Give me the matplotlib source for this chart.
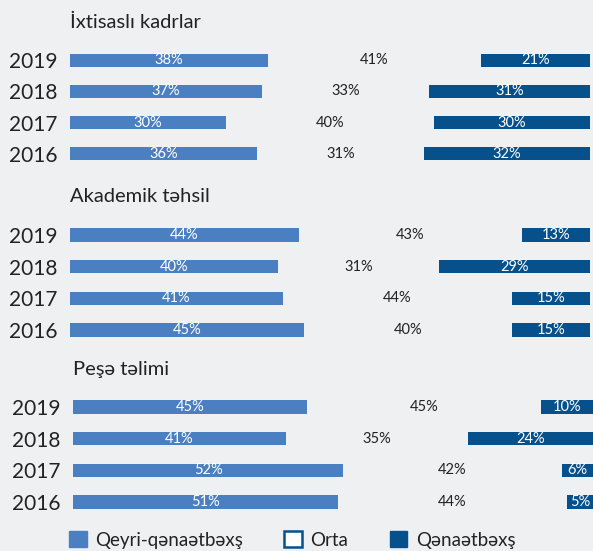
import matplotlib.pyplot as plt
from matplotlib.patches import Patch

plt.rcParams['font.family'] = ['Lato', 'DejaVu Sans']

years = ['2019', '2018', '2017', '2016']
panels = ['İxtisaslı kadrlar', 'Akademik təhsil', 'Peşə təlimi']

# Qeyri-qənaətbəxş / Orta / Qənaətbəxş, per panel, years 2019..2016
bad = [[38, 37, 30, 36], [44, 40, 41, 45], [45, 41, 52, 51]]
mid = [[41, 33, 40, 31], [43, 31, 44, 40], [45, 35, 42, 44]]
good = [[21, 31, 30, 32], [13, 29, 15, 15], [10, 24, 6, 5]]

legend_labels = ['Qeyri-qənaətbəxş', 'Orta', 'Qənaətbəxş']

light = '#4a7fc1'
dark = '#06508c'
bg = '#eff0f2'

W, H = 593, 551
fig = plt.figure(figsize=(W / 100, H / 100), dpi=100, facecolor=bg)

# axes boxes in pixels: left, top, bottom
boxes = [(70, 44.5, 169.5), (70, 219, 346), (73, 391, 518)]
title_pos = [(70, 22), (70, 197), (73, 369)]

for i in range(3):
    left, top, bottom = boxes[i]
    ax = fig.add_axes([left / W, 1 - bottom / H, 520 / W, (bottom - top) / H])
    ax.set_facecolor(bg)
    y = range(len(years))
    ax.barh(y, bad[i], height=0.42, color=light)
    # satisfied bars are anchored on the right end
    starts = [100 - g for g in good[i]]
    ax.barh(y, good[i], left=starts, height=0.42, color=dark)
    for j in range(len(years)):
        ax.text(bad[i][j] / 2, j, f'{bad[i][j]}%', ha='center', va='center',
                color='white', fontsize=10.5)
        ax.text((bad[i][j] + starts[j]) / 2, j, f'{mid[i][j]}%', ha='center',
                va='center', color='#222222', fontsize=10.5)
        ax.text(starts[j] + good[i][j] / 2, j, f'{good[i][j]}%', ha='center',
                va='center', color='white', fontsize=10.5)
    ax.set_xlim(0, 100)
    ax.set_ylim(3.5, -0.5)
    ax.set_yticks(list(y))
    ax.set_yticklabels(years, fontsize=15, color='#222222')
    ax.tick_params(axis='y', length=0, pad=9)
    ax.set_xticks([])
    for s in ax.spines.values():
        s.set_visible(False)
    tx, ty = title_pos[i]
    fig.text(tx / W, 1 - ty / H, panels[i], fontsize=14.5, color='#222222',
             ha='left', va='center')

handles = [Patch(facecolor=light, edgecolor=light),
           Patch(facecolor='white', edgecolor=dark, linewidth=1.8),
           Patch(facecolor=dark, edgecolor=dark)]
fig.legend(handles, legend_labels, loc='center left', ncol=3, frameon=False,
           bbox_to_anchor=(52 / W, 1 - 540 / H), fontsize=13.5,
           handlelength=0.95, handleheight=0.95, handletextpad=0.45,
           columnspacing=2.2, labelcolor='#222222', borderpad=0.4)

fig.savefig('out.png', dpi=100, facecolor=bg)
